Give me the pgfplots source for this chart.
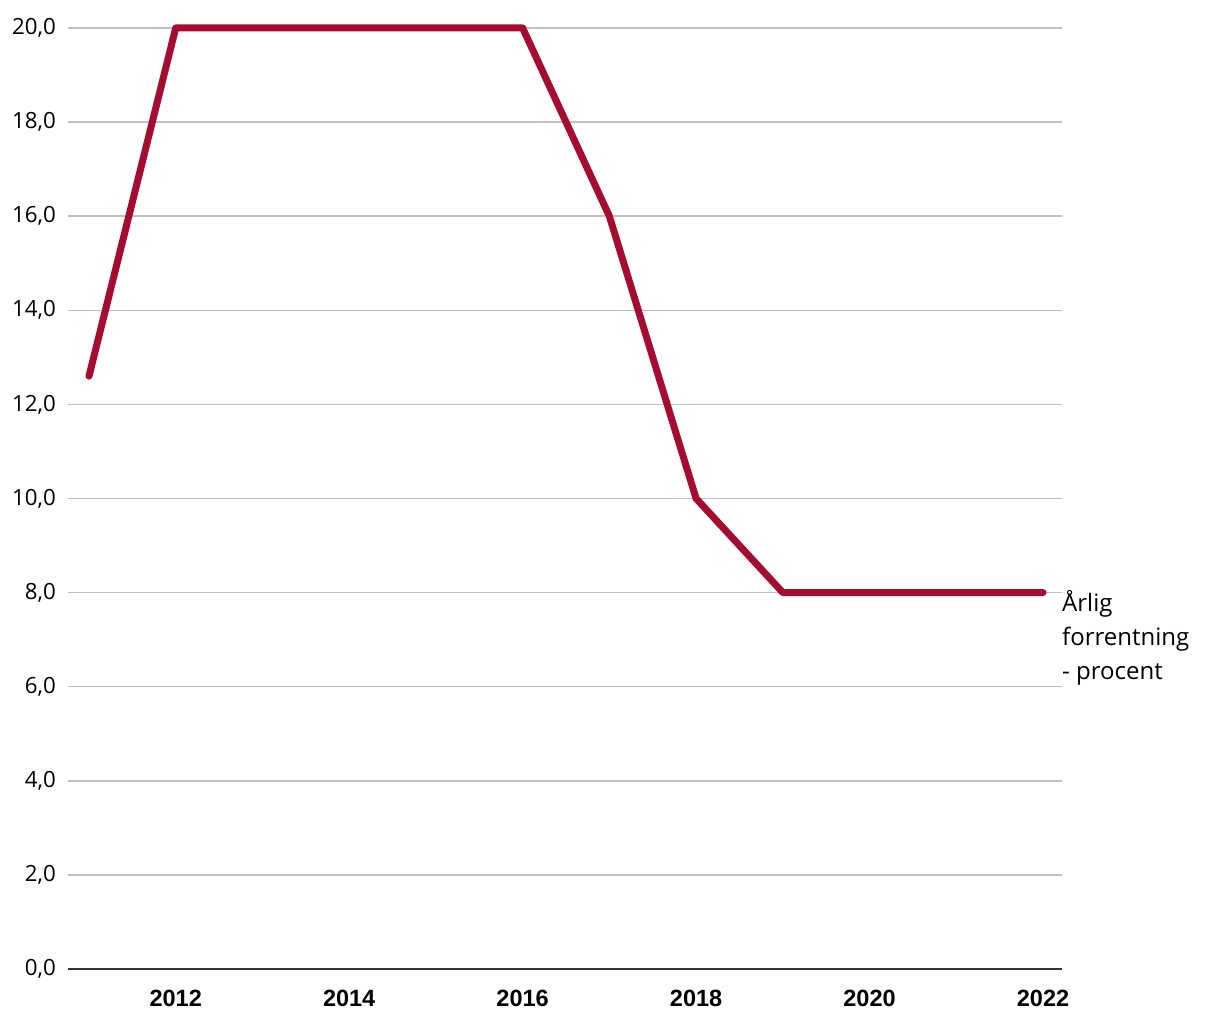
\documentclass[border=0pt]{standalone}
\usepackage{pgfplots}
\pgfplotsset{compat=1.18}
\usepackage{fontspec}
\setmainfont{Open Sans}
\newfontfamily\xfont{Liberation Sans}
\definecolor{linec}{HTML}{A50C30}
\definecolor{gridc}{HTML}{C0C0C0}
\definecolor{axc}{HTML}{333333}
\begin{document}
\begin{tikzpicture}
\path[use as bounding box] (0,0) rectangle (1220bp,1020bp);
\begin{axis}[
  at={(68bp,51bp)}, anchor=south west,
  scale only axis, width=994bp, height=941bp,
  xmin=2010.758, xmax=2022.219,
  ymin=0, ymax=20,
  clip=false,
  axis lines*=left,
  x axis line style={draw=axc, line width=2bp, -},
  y axis line style={draw=none},
  major tick length=0pt,
  ymajorgrids,
  grid style={draw=gridc, line width=1.5bp},
  xtick={2012,2014,2016,2018,2020,2022},
  xticklabels={2012,2014,2016,2018,2020,2022},
  ytick={0,2,...,20},
  yticklabels={{0,0},{2,0},{4,0},{6,0},{8,0},{10,0},{12,0},{14,0},{16,0},{18,0},{20,0}},
  xticklabel style={font=\xfont\bfseries\fontsize{23.5bp}{27bp}\selectfont, inner sep=0pt, anchor=north},
  yticklabel style={font=\fontsize{22.3bp}{26bp}\selectfont, inner sep=0pt, anchor=east},
  x tick label style={yshift=-21bp},
  y tick label style={xshift=-12bp},
]
\addplot[linec, line width=7bp, line cap=round, line join=round] coordinates {
(2011,12.6) (2012,20) (2013,20) (2014,20) (2015,20) (2016,20) (2017,16) (2018,10) (2019,8) (2020,8) (2021,8) (2022,8)
};
\node[anchor=base west, inner sep=0pt, font=\fontsize{24bp}{28bp}\selectfont] at (axis cs:2022.219,8) [yshift=-19bp] {Årlig};
\node[anchor=base west, inner sep=0pt, font=\fontsize{24bp}{28bp}\selectfont] at (axis cs:2022.219,8) [yshift=-53bp] {forrentning};
\node[anchor=base west, inner sep=0pt, font=\fontsize{24bp}{28bp}\selectfont] at (axis cs:2022.219,8) [yshift=-87bp] {- procent};
\end{axis}
\end{tikzpicture}
\end{document}
